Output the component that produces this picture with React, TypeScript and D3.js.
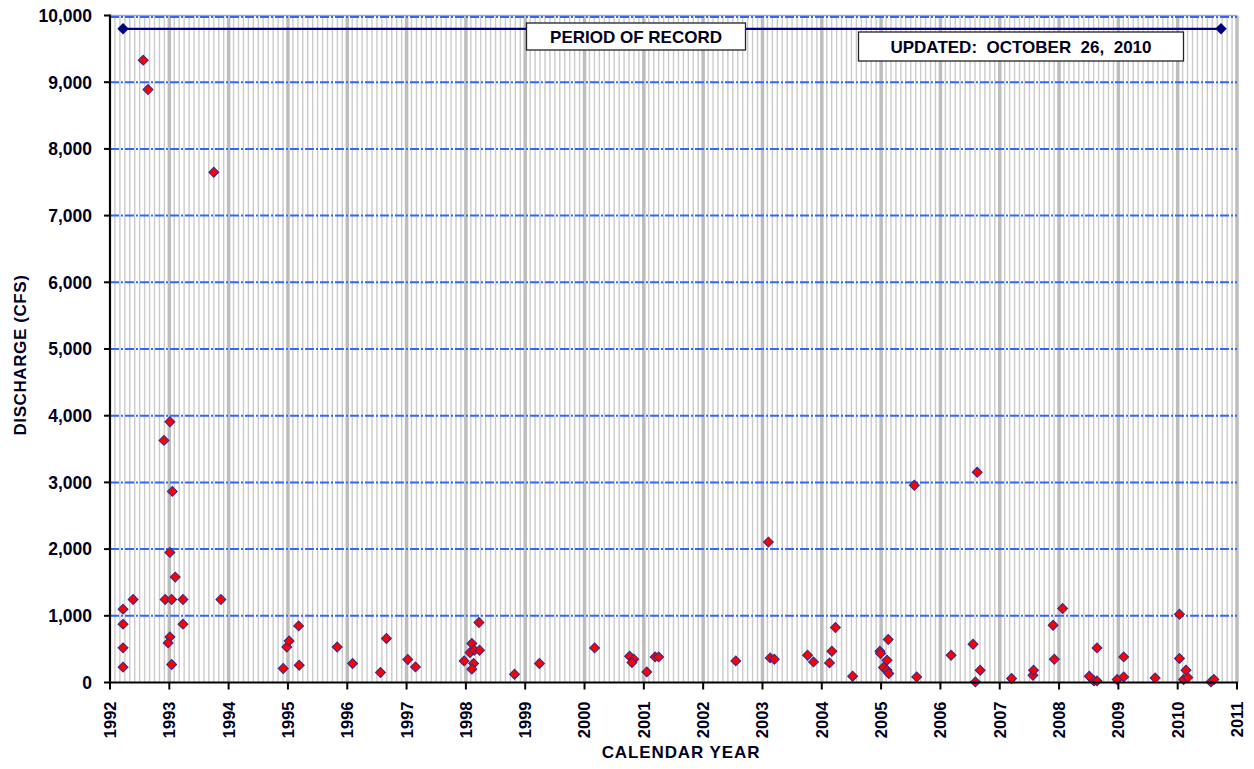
import React from 'react';
import * as d3 from 'd3';

const sampleYears = [
  1992.22, 1992.22, 1992.22, 1992.22, 1992.39, 1992.56, 1992.64,
  1992.91, 1993.01, 1993.05, 1993.01, 1993.1, 1992.93, 1993.04, 1993.23, 1993.23, 1993.01, 1992.98, 1993.04,
  1993.75, 1993.87,
  1994.92, 1994.98, 1995.02, 1995.18, 1995.19, 1995.83, 1996.09, 1996.56, 1996.66, 1997.02, 1997.15,
  1997.97, 1998.1, 1998.07, 1998.14, 1998.23, 1998.22, 1998.13, 1998.1, 1998.82, 1999.24,
  2000.17, 2000.76, 2000.83, 2000.8, 2001.05, 2001.19, 2001.25, 2002.55,
  2003.1, 2003.13, 2003.2, 2003.76, 2003.86, 2004.13, 2004.17, 2004.23, 2004.52,
  2004.98, 2004.99, 2005.04, 2005.1, 2005.1, 2005.13, 2005.12, 2005.56, 2005.6,
  2006.18, 2006.55, 2006.59, 2006.62, 2006.67,
  2007.2, 2007.56, 2007.57, 2007.9, 2007.92, 2008.06, 2008.51, 2008.59, 2008.64, 2008.64,
  2008.98, 2009.09, 2009.09, 2009.62, 2010.03, 2010.03, 2010.1, 2010.14, 2010.17, 2010.56, 2010.61
];

const sampleDischarge = [
  230, 520, 875, 1100, 1245, 9330, 8890,
  3630, 3910, 2865, 1950, 1580, 1245, 1245, 1245, 875, 683, 593, 270,
  7650, 1245,
  210, 533, 623, 848, 259, 533, 285, 150, 660, 345, 234,
  324, 584, 450, 484, 484, 899, 285, 200, 124, 285,
  519, 394, 349, 300, 159, 384, 384, 324,
  2105, 369, 349, 409, 309, 294, 469, 824, 94,
  469, 434, 225, 334, 184, 135, 644, 2957, 84,
  409, 574, 9, 3152, 184,
  60, 109, 184, 859, 349, 1109, 94, 24, 24, 519,
  45, 84, 384, 69, 1024, 360, 45, 184, 75, 9, 45
];

const recordYears = [1992.22, 2010.73];
const recordLevel = [9800, 9800];

const yearTicks = d3.range(1992, 2012);
const dischargeTicks = d3.range(0, 10001, 1000);

const settings = {
  width: 1254,
  height: 769,
  left: 110,
  right: 1237,
  top: 15.5,
  bottom: 682.5
};

const font = '"Liberation Sans", Arial, sans-serif';

export default function App() {
  const { width, height, left, right, top, bottom } = settings;

  const xScale = d3.scaleLinear().domain([1992, 2011]).range([left, right]);
  const yScale = d3.scaleLinear().domain([0, 10000]).range([bottom, top]);

  const months = d3.range(0, 19 * 12).map(m => 1992 + m / 12).filter(m => m % 1 !== 0);
  const diamond = d3.symbol(d3.symbolSquare, 48)();
  const bigDiamond = d3.symbol(d3.symbolSquare, 66)();
  const recordLine = d3.line<number>()
    .x(d => xScale(d))
    .y((d, i) => yScale(recordLevel[i]));

  return (
    <svg width={width} height={height} style={{ position: 'absolute', left: 0, top: 0, background: '#fff' }}
      fontFamily={font}>
      {/* monthly grid */}
      <g>
        {months.map(m => (
          <line key={m} x1={xScale(m)} x2={xScale(m)} y1={top} y2={bottom} stroke="#cbcbcb" strokeWidth={1.4} />
        ))}
      </g>
      {/* yearly grid */}
      <g>
        {yearTicks.slice(1).map(y => (
          <line key={y} x1={xScale(y)} x2={xScale(y)} y1={top} y2={bottom} stroke="#bdbdbd" strokeWidth={3.5} />
        ))}
      </g>
      <line x1={left} x2={right} y1={top} y2={top} stroke="#a8a8a8" strokeWidth={1.5} />
      {/* horizontal discharge grid */}
      <g>
        {dischargeTicks.slice(1).map(v => (
          <line key={v} x1={left} x2={right} y1={yScale(v) + (v === 10000 ? 1.5 : 0)} y2={yScale(v) + (v === 10000 ? 1.5 : 0)}
            stroke="#3366ff" strokeWidth={2} strokeDasharray="9,2,2,2" />
        ))}
      </g>

      {/* period of record */}
      <path d={recordLine(recordYears) || ''} fill="none" stroke="#000080" strokeWidth={2.2} />
      {recordYears.map((yr, i) => (
        <path key={i} d={bigDiamond} transform={`translate(${xScale(yr)},${yScale(recordLevel[i])}) rotate(45)`}
          fill="#000080" />
      ))}

      <g>
        <rect x={526.5} y={23} width={219} height={27} fill="#fff" stroke="#222" strokeWidth={1.3} />
        <text x={636} y={43} textAnchor="middle" fontSize={17} fontWeight="bold" fill="#000022">PERIOD OF RECORD</text>
      </g>
      <g>
        <rect x={858.5} y={32} width={325} height={29} fill="#fff" stroke="#222" strokeWidth={1.3} />
        <text x={1021} y={53} textAnchor="middle" fontSize={17} fontWeight="bold" fill="#000022"
          style={{ whiteSpace: 'pre' }}>{'UPDATED:  OCTOBER  26,  2010'}</text>
      </g>

      {/* samples */}
      <g>
        {sampleYears.map((yr, i) => (
          <path key={i} d={diamond} transform={`translate(${xScale(yr)},${yScale(sampleDischarge[i])}) rotate(45)`}
            fill="#ff0000" stroke="#3a2a8a" strokeWidth={1.1} />
        ))}
      </g>

      {/* axes */}
      <line x1={left} x2={left} y1={top - 1} y2={bottom + 1} stroke="#000" strokeWidth={2.2} />
      <line x1={left - 1} x2={right + 1} y1={bottom} y2={bottom} stroke="#000" strokeWidth={2.2} />
      <g>
        {dischargeTicks.map(v => (
          <g key={v} transform={`translate(0,${yScale(v)})`}>
            <line x1={left - 6} x2={left} stroke="#000" strokeWidth={2} />
            <text x={left - 18} dy="0.36em" textAnchor="end" fontSize={17.5} fontWeight="bold" fill="#000022">
              {d3.format(',')(v)}
            </text>
          </g>
        ))}
      </g>
      <g>
        {yearTicks.map(y => (
          <g key={y} transform={`translate(${xScale(y)},${bottom})`}>
            <line y1={0} y2={7} stroke="#000" strokeWidth={2} />
            <text transform="rotate(-90)" x={-19} dy="0.36em" textAnchor="end" fontSize={16.5} fontWeight="bold"
              fill="#000022">{y}</text>
          </g>
        ))}
      </g>

      <text x={681} y={758} textAnchor="middle" fontSize={17} fontWeight="bold" letterSpacing={0.9} fill="#000022">
        CALENDAR YEAR
      </text>
      <text transform="translate(26,355) rotate(-90)" textAnchor="middle" fontSize={17} fontWeight="bold"
        letterSpacing={0.6} fill="#000022">DISCHARGE (CFS)</text>
    </svg>
  );
}
